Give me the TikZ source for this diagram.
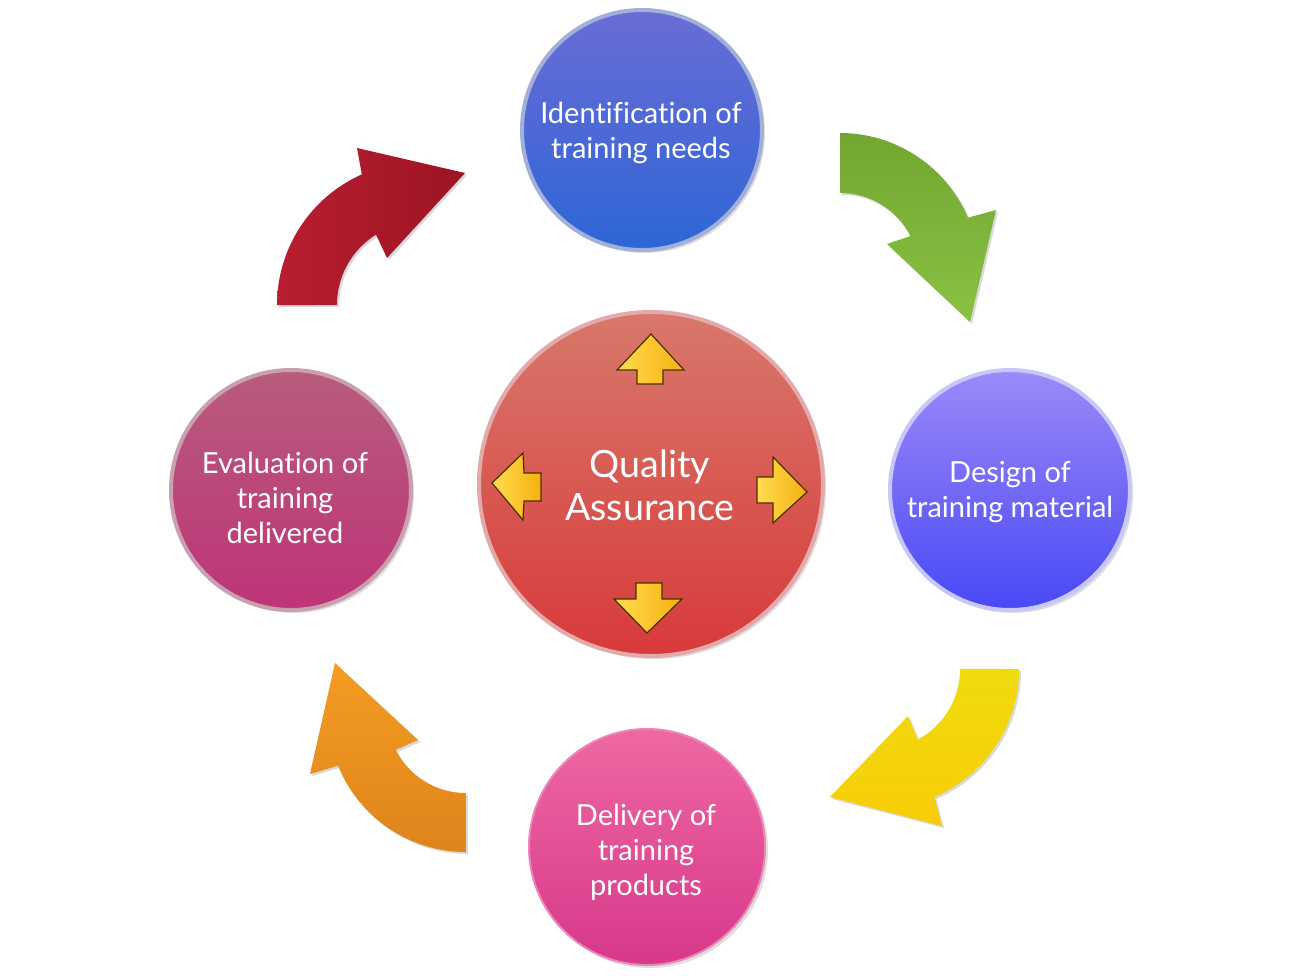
\documentclass[tikz,border=0pt]{standalone}
\usepackage{fontspec}
\setmainfont[Ligatures=NoCommon]{Lato}
\usetikzlibrary{shadows}
\definecolor{c1t}{HTML}{6A6CD6}\definecolor{c1b}{HTML}{2D66D6}\definecolor{c1r}{HTML}{A2B0D8}
\definecolor{c2t}{HTML}{9C8AF8}\definecolor{c2b}{HTML}{4848F6}\definecolor{c2r}{HTML}{C8C8F8}
\definecolor{c3t}{HTML}{EE68A2}\definecolor{c3b}{HTML}{D8388A}\definecolor{c3r}{HTML}{EC86B8}
\definecolor{c4t}{HTML}{B85C7C}\definecolor{c4b}{HTML}{BE3478}\definecolor{c4r}{HTML}{C8A0B0}
\definecolor{cqt}{HTML}{D8786A}\definecolor{cqb}{HTML}{D83A3A}\definecolor{cqr}{HTML}{E2AAAA}
\definecolor{redA}{HTML}{B81E30}\definecolor{redB}{HTML}{9C1424}
\definecolor{grnA}{HTML}{72A630}\definecolor{grnB}{HTML}{88C244}
\definecolor{yelA}{HTML}{EFDC0C}\definecolor{yelB}{HTML}{F8CC08}
\definecolor{orgA}{HTML}{F49C22}\definecolor{orgB}{HTML}{DE841C}
\definecolor{qyl}{HTML}{FFDC50}\definecolor{qyr}{HTML}{F6B010}
\definecolor{qyo}{HTML}{4A3000}
\begin{document}
\begin{tikzpicture}[x=0.5pt,y=-0.5pt,
  bubble/.style={circle, inner sep=0pt, minimum size=120pt, line width=2pt,
    drop shadow={shadow xshift=1.5pt, shadow yshift=-1.5pt, opacity=0.25}},
  txt/.style={text=white, align=center, inner sep=0pt, font=\fontsize{14.5}{17.5}\selectfont},
  bigarrow/.style={drop shadow={shadow xshift=1pt, shadow yshift=-1pt, opacity=0.3}},
  smallarrow/.style={draw=qyo, line width=0.6pt, left color=qyl, right color=qyr, line join=miter}
]
\useasboundingbox (0,0) rectangle (1298,976);

% big curved arrows
\path[bigarrow, left color=redA, right color=redB]
  (277,305) arc[start angle=180, end angle=246, radius=143] -- (357,148) -- (465,173) -- (387,258)
  -- (376,234.6) arc[start angle=238, end angle=180, radius=83] -- cycle;
\path[bigarrow, top color=grnA, bottom color=grnB]
  (840,133) arc[start angle=270, end angle=337, radius=139] -- (996,210) -- (970,322) -- (887,244)
  -- (910.4,236.1) arc[start angle=333, end angle=270, radius=79] -- cycle;
\path[bigarrow, top color=yelA, bottom color=yelB]
  (1019,669) arc[start angle=0, end angle=67, radius=139] -- (942,826) -- (830,797) -- (908,716)
  -- (917.6,739.6) arc[start angle=62, end angle=0, radius=80] -- cycle;
\path[bigarrow, top color=orgA, bottom color=orgB]
  (466,852) arc[start angle=90, end angle=158, radius=138] -- (310,774) -- (335,663) -- (418,740)
  -- (395.6,749.9) arc[start angle=153, end angle=90, radius=79] -- cycle;

% circles
\node[bubble, top color=c1t, bottom color=c1b, draw=c1r] (ident) at (642,130) {};
\node[bubble, top color=c2t, bottom color=c2b, draw=c2r] (design) at (1010,490) {};
\node[bubble, minimum size=118pt, top color=c3t, bottom color=c3b, draw=c3r, line width=1pt] (deliv) at (647,847) {};
\node[bubble, top color=c4t, bottom color=c4b, draw=c4r] (eval) at (291,490) {};
\node[bubble, minimum size=172pt, top color=cqt, bottom color=cqb, draw=cqr] (qa) at (651,484) {};

% labels
\node[txt] (identT) at (641,133) {Identification of\\training needs};
\node[txt] (designT) at (1010,492) {Design of\\training material};
\node[txt] (delivT) at (646,852) {Delivery of\\training\\products};
\node[txt] (evalT) at (285,498) {Evaluation of\\training\\delivered};
\node[txt, font=\fontsize{18.8}{21.5}\selectfont] (qaT) at (650,485) {Quality\\Assurance};

% small arrows in the centre
\path[smallarrow] (651,334) -- (684,370) -- (663,370) -- (663,384) -- (637,384) -- (637,370) -- (617,370) -- cycle;
\path[smallarrow] (647,633) -- (682,599) -- (662,599) -- (662,583) -- (636,583) -- (636,599) -- (614,599) -- cycle;
\path[smallarrow] (492,483) -- (523,453) -- (524,473) -- (541,473) -- (541,501) -- (524,501) -- (523,520) -- cycle;
\path[smallarrow] (807,492) -- (773,457) -- (773,477) -- (757,477) -- (757,503) -- (773,503) -- (773,523) -- cycle;
\end{tikzpicture}
\end{document}
